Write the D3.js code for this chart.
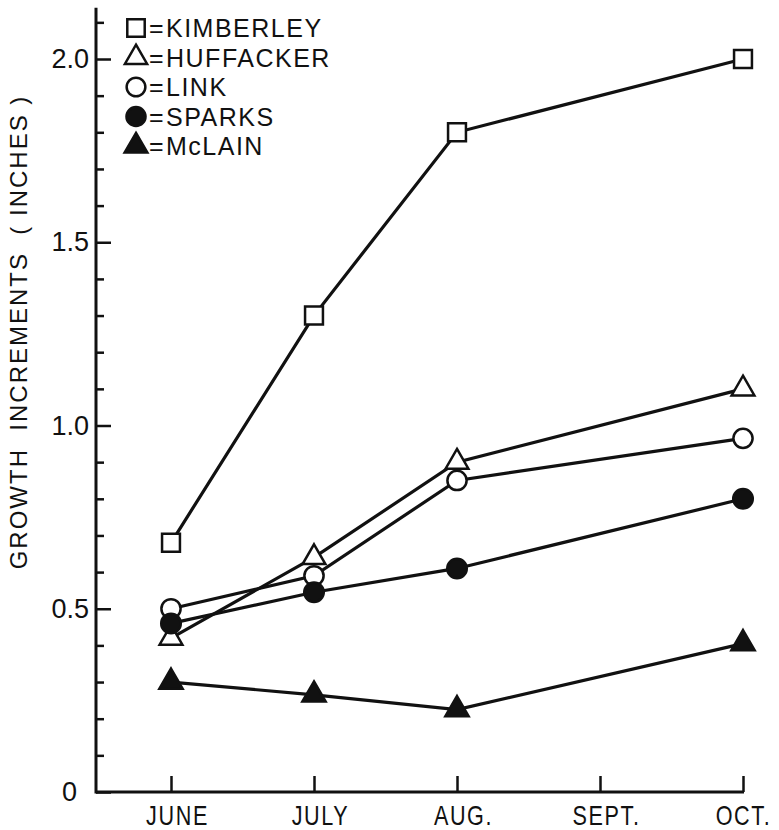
<!DOCTYPE html>
<html>
<head>
<meta charset="utf-8">
<script src="https://cdn.jsdelivr.net/npm/d3@7"></script>
<style>
  body { margin: 0; background: #fff; }
  text { font-family: "Liberation Sans", Arial, sans-serif; fill: #111; }
</style>
</head>
<body>
<div id="chart"></div>
<script>
// months on the x axis
let months = ["JUNE", "JULY", "AUG.", "SEPT.", "OCT."];

// growth increments (inches), null = no measurement
let kimberley = [0.68, 1.30, 1.80, null, 2.00];
let huffacker = [0.42, 0.64, 0.90, null, 1.10];
let link      = [0.50, 0.59, 0.85, null, 0.965];
let sparks    = [0.46, 0.545, 0.61, null, 0.80];
let mclain    = [0.30, 0.265, 0.225, null, 0.405];

let yMajorTicks = [0, 0.5, 1.0, 1.5, 2.0];
let yMinorTicks = [0.1,0.2,0.3,0.4,0.6,0.7,0.8,0.9,1.1,1.2,1.3,1.4,1.6,1.7,1.8,1.9,2.1];

let series = [
    {name: "KIMBERLEY", values: kimberley, symbol: d3.symbolSquare, size: 320, filled: false},
    {name: "HUFFACKER", values: huffacker, symbol: d3.symbolTriangle, size: 225, filled: false},
    {name: "LINK", values: link, symbol: d3.symbolCircle, size: 290, filled: false},
    {name: "SPARKS", values: sparks, symbol: d3.symbolCircle, size: 300, filled: true},
    {name: "McLAIN", values: mclain, symbol: d3.symbolTriangle, size: 235, filled: true}
];

let svg = d3.select("#chart").append("svg")
    .attr("width", 779)
    .attr("height", 830);

let x = d3.scalePoint()
    .domain(months)
    .range([171, 743]);

let y = d3.scaleLinear()
    .domain([0, 2])
    .range([792, 59]);

let axisX0 = 96;

// y axis: minor ticks
svg.append("g")
    .attr("transform", `translate(${axisX0},0)`)
    .call(d3.axisLeft(y).tickValues(yMinorTicks).tickSizeInner(-8).tickSizeOuter(0).tickFormat(""))
    .call(g => g.select(".domain").remove())
    .call(g => g.selectAll("line").attr("stroke", "#111").attr("stroke-width", 2.5));

// y axis: major ticks with labels
svg.append("g")
    .attr("transform", `translate(${axisX0},0)`)
    .call(d3.axisLeft(y).tickValues(yMajorTicks).tickSizeInner(-15).tickSizeOuter(0).tickPadding(7)
        .tickFormat(d => d == 0 ? "0" : d3.format(".1f")(d)))
    .call(g => g.select(".domain").remove())
    .call(g => g.selectAll("line").attr("stroke", "#111").attr("stroke-width", 2.5))
    .call(g => g.selectAll("text")
        .attr("font-size", 27)
        .attr("font-family", "Liberation Sans, Arial, sans-serif")
        .attr("fill", "#111")
        .attr("dx", d => d == 0 ? -12 : 0));

// axis lines
svg.append("line")
    .attr("x1", axisX0).attr("x2", axisX0)
    .attr("y1", y(2.14)).attr("y2", y(0) + 1.5)
    .attr("stroke", "#111").attr("stroke-width", 3);

svg.append("line")
    .attr("x1", axisX0).attr("x2", x("OCT.") + 1)
    .attr("y1", y(0)).attr("y2", y(0))
    .attr("stroke", "#111").attr("stroke-width", 3);

// x axis ticks + labels (narrow lettering)
svg.append("g")
    .attr("transform", `translate(0,${y(0)})`)
    .call(d3.axisBottom(x).tickSizeInner(-16).tickSizeOuter(0).tickPadding(14))
    .call(g => g.select(".domain").remove())
    .call(g => g.selectAll("line").attr("stroke", "#111").attr("stroke-width", 2.5))
    .call(g => g.selectAll("text")
        .attr("font-size", 27)
        .attr("font-family", "Liberation Sans, Arial, sans-serif")
        .attr("letter-spacing", 2)
        .attr("transform", d => d == "OCT." ? "translate(0,0) scale(0.8,1)" : "translate(6,0) scale(0.8,1)")
        .attr("fill", "#111"));

// y axis title
svg.append("text")
    .attr("transform", `translate(27,332) rotate(-90)`)
    .attr("text-anchor", "middle")
    .attr("font-size", 24)
    .attr("letter-spacing", 2)
    .style("white-space", "pre")
    .text("GROWTH  INCREMENTS  ( INCHES )");

// lines
let line = d3.line()
    .x(d => x(d.m))
    .y(d => y(d.v));

series.forEach(s => {
    let pts = months.map((m, i) => ({m: m, v: s.values[i]})).filter(d => d.v != null);
    svg.append("path")
        .datum(pts)
        .attr("d", line)
        .attr("fill", "none")
        .attr("stroke", "#111")
        .attr("stroke-width", 3.2);
});

// markers
series.forEach(s => {
    let pts = months.map((m, i) => ({m: m, v: s.values[i]})).filter(d => d.v != null);
    svg.append("g").selectAll("path")
        .data(pts)
        .enter()
        .append("path")
        .attr("d", d3.symbol().type(s.symbol).size(s.size))
        .attr("transform", d => `translate(${x(d.m)},${y(d.v)})`)
        .attr("fill", s.filled ? "#111" : "#fff")
        .attr("stroke", "#111")
        .attr("stroke-width", 2.5);
});

// legend
let legend = svg.append("g");
series.forEach((s, i) => {
    let ly = 28 + i * 29.5;
    legend.append("path")
        .attr("d", d3.symbol().type(s.symbol).size(s.size * 0.95))
        .attr("transform", `translate(136,${ly})`)
        .attr("fill", s.filled ? "#111" : "#fff")
        .attr("stroke", "#111")
        .attr("stroke-width", 2.5);
    legend.append("text")
        .attr("x", 149)
        .attr("y", ly)
        .attr("dy", "0.36em")
        .attr("font-size", 25)
        .text("=");
    legend.append("text")
        .attr("x", 166)
        .attr("y", ly)
        .attr("dy", "0.36em")
        .attr("font-size", 25)
        .attr("letter-spacing", 1.5)
        .text(s.name);
});
</script>
</body>
</html>
